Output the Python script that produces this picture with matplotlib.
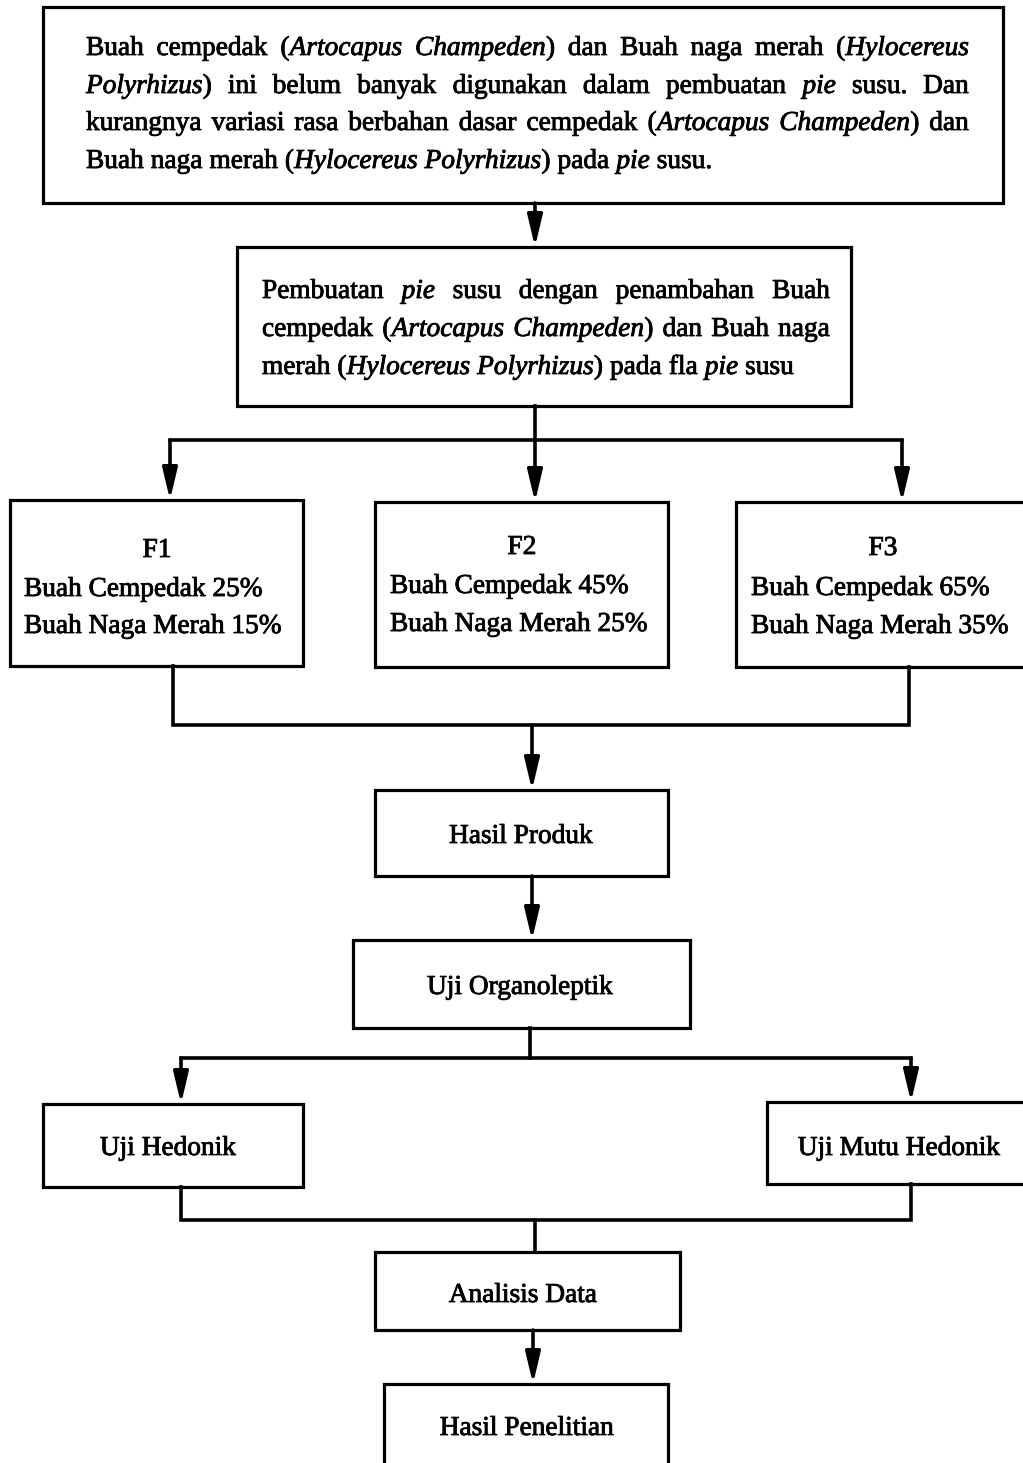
import matplotlib.pyplot as plt
import matplotlib.patheffects as pe
from matplotlib.patches import Rectangle

plt.rcParams['font.family'] = ['Liberation Serif', 'DejaVu Serif']

# Text content (*...* marks italic)
intro_lines = [
    "Buah cempedak (*Artocapus Champeden*) dan Buah naga merah (*Hylocereus*",
    "*Polyrhizus*) ini belum banyak digunakan dalam pembuatan *pie* susu. Dan",
    "kurangnya variasi rasa berbahan dasar cempedak (*Artocapus Champeden*) dan",
    "Buah naga merah (*Hylocereus Polyrhizus*) pada *pie* susu.",
]
method_lines = [
    "Pembuatan *pie* susu dengan penambahan Buah",
    "cempedak (*Artocapus Champeden*) dan Buah naga",
    "merah (*Hylocereus Polyrhizus*) pada fla *pie* susu",
]
formula_names = ["F1", "F2", "F3"]
cempedak_pct = [25, 45, 65]
naga_pct = [15, 25, 35]
step_labels = ["Hasil Produk", "Uji Organoleptik", "Uji Hedonik",
               "Uji Mutu Hedonik", "Analisis Data", "Hasil Penelitian"]

W, H = 1023, 1463
fig = plt.figure(figsize=(W / 100, H / 100), dpi=100)
ax = fig.add_axes([0, 0, 1, 1])
ax.set_xlim(0, W)
ax.set_ylim(H, 0)
ax.axis('off')
renderer = fig.canvas.get_renderer()

FS = 19.7
LW = 2.6
BLW = 2.3
# slight stroke so the glyphs look as heavy as the scanned original
HEAVY = [pe.withStroke(linewidth=0.6, foreground='black')]


def box(x0, y0, x1, y1):
    ax.add_patch(Rectangle((x0, y0), x1 - x0, y1 - y0, fill=False,
                           lw=BLW, ec='black', joinstyle='miter'))


def open_box(pts):
    # box that runs off the edge of the picture
    xs, ys = zip(*pts)
    ax.plot(xs, ys, color='black', lw=BLW, solid_joinstyle='miter')


def line(pts):
    xs, ys = zip(*pts)
    ax.plot(xs, ys, color='black', lw=LW, solid_joinstyle='miter',
            solid_capstyle='projecting')


def arrow(x, y0, y1):
    ax.annotate('', xy=(x, y1), xytext=(x, y0),
                arrowprops=dict(arrowstyle='-|>,head_length=19,head_width=4.5',
                                mutation_scale=1, lw=LW, color='black',
                                shrinkA=0, shrinkB=0))


def label(x, y, s, ha='center', italic=False):
    return ax.text(x, y, s, fontsize=FS, style='italic' if italic else 'normal',
                   ha=ha, va='baseline', path_effects=HEAVY)


def parse(text):
    words, italic = [], False
    for w in text.split(' '):
        segs = []
        for i, part in enumerate(w.split('*')):
            if i > 0:
                italic = not italic
            if part:
                segs.append((part, italic))
        words.append(segs)
    return words


def seg_width(s, it):
    t = ax.text(0, 0, s, fontsize=FS, style='italic' if it else 'normal')
    w = t.get_window_extent(renderer).width
    t.remove()
    return w


SPACE = seg_width("a a", False) - seg_width("aa", False)


def text_line(text, x0, y, x1=None):
    words = parse(text)
    widths = [[seg_width(s, it) for s, it in segs] for segs in words]
    total = sum(sum(w) for w in widths)
    gap = SPACE if x1 is None else (x1 - x0 - total) / (len(words) - 1)
    x = x0
    for segs, ws in zip(words, widths):
        for (s, it), w in zip(segs, ws):
            label(x, y, s, ha='left', italic=it)
            x += w
        x += gap


# top box
box(43, 7, 1003, 203)
for i, (ln, yb) in enumerate(zip(intro_lines, [55, 93, 130, 168])):
    text_line(ln, 86, yb, 969 if i < len(intro_lines) - 1 else None)
arrow(535, 203, 247)

# method box
box(237, 247, 851, 406)
for i, (ln, yb) in enumerate(zip(method_lines, [298, 336, 374])):
    text_line(ln, 262, yb, 830 if i < len(method_lines) - 1 else None)
line([(535, 406), (535, 440)])
line([(170, 440), (902, 440)])
for x, yt in [(170, 500), (535, 502), (902, 502)]:
    arrow(x, 440, yt)

# formula boxes
box(10, 500, 303, 666)
box(375, 502, 668, 667)
open_box([(1030, 502), (736, 502), (736, 667), (1030, 667)])
f_center = [157, 522, 883]
f_left = [24, 390, 751]
f_base = [(557, 596, 633), (554, 593, 631), (555, 595, 633)]
for i in range(3):
    b0, b1, b2 = f_base[i]
    label(f_center[i], b0, formula_names[i])
    label(f_left[i], b1, f"Buah Cempedak {cempedak_pct[i]}%", ha='left')
    label(f_left[i], b2, f"Buah Naga Merah {naga_pct[i]}%", ha='left')
line([(173, 666), (173, 725), (909, 725), (909, 667)])
arrow(532, 725, 790)

# lower steps
box(375, 790, 668, 876)
box(353, 940, 690, 1028)
box(43, 1104, 303, 1187)
open_box([(1030, 1102), (767, 1102), (767, 1184), (1030, 1184)])
box(375, 1252, 680, 1330)
open_box([(384, 1470), (384, 1384), (668, 1384), (668, 1470)])
step_text = [(521, 843), (520, 994), (168, 1155), (899, 1155), (523, 1302), (527, 1435)]
for (tx, ty), lab in zip(step_text, step_labels):
    label(tx, ty, lab)

arrow(532, 876, 940)
line([(530, 1028), (530, 1058)])
line([(181, 1058), (911, 1058)])
arrow(181, 1058, 1104)
arrow(911, 1058, 1102)
line([(181, 1187), (181, 1220), (911, 1220), (911, 1184)])
line([(535, 1220), (535, 1252)])
arrow(533, 1330, 1384)

fig.savefig('out.png', dpi=100, facecolor='white')
